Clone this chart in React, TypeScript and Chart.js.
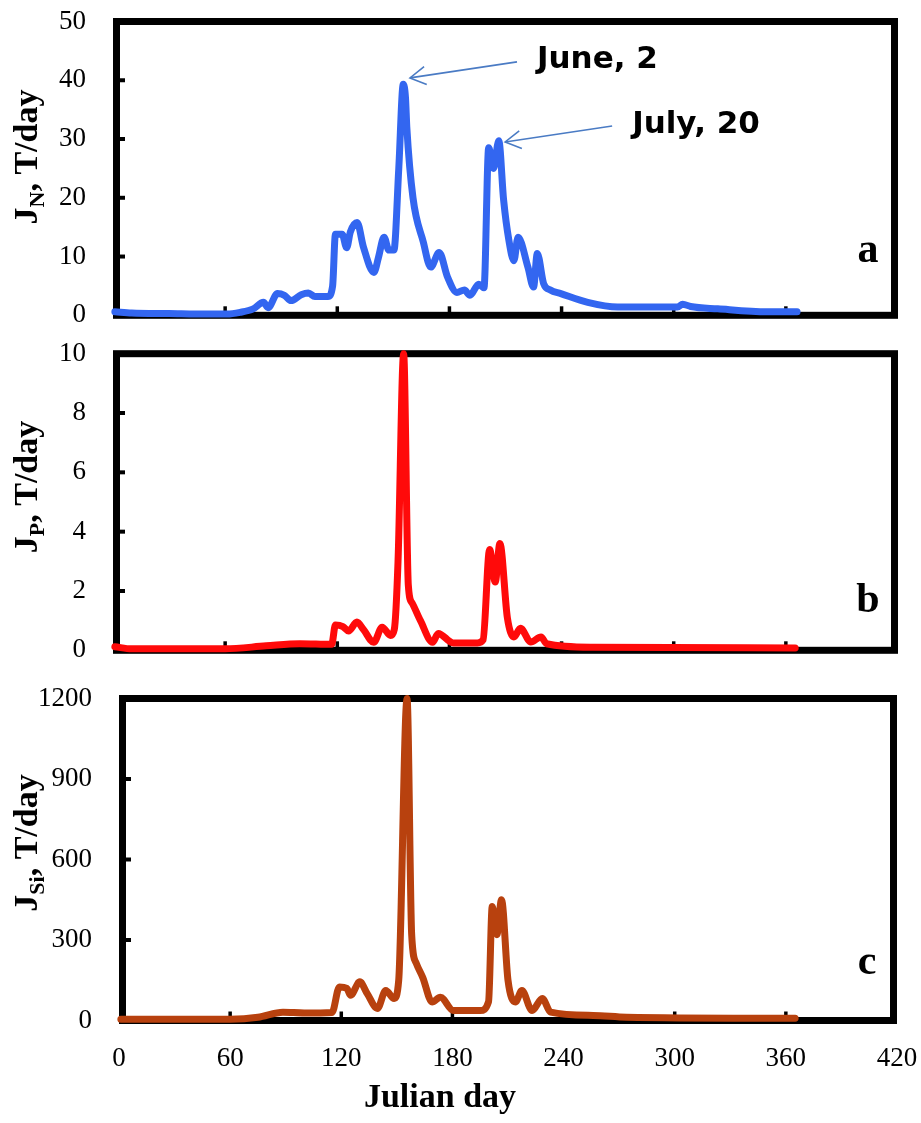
import React, { useEffect, useRef } from "react";
import { Chart, registerables } from "chart.js";
Chart.register(...registerables);

// ---- data (Julian day, flux) ----
const xTickValues = [0, 60, 120, 180, 240, 300, 360, 420];

const daysN = [1, 10, 30, 50, 61, 68, 75, 80.5, 83, 88, 91.7, 95.3, 100.7, 104.5, 108, 115, 117.5, 119, 122.6, 125, 127, 130.6, 134, 139.6, 142, 145, 147.6, 150.3, 152.9, 155.3, 156.5, 157.2, 160.5, 166, 170, 174.5, 179, 184, 188, 191, 195.7, 198.5, 201, 203.6, 206.4, 209, 211.8, 214.5, 216.7, 222, 225, 227, 230.4, 234, 239.6, 254, 270, 302, 304.8, 309, 323.6, 350, 366];
const valuesN = [0.6, 0.4, 0.3, 0.2, 0.2, 0.5, 1.1, 2.2, 1.3, 3.7, 3.4, 2.5, 3.5, 3.8, 3.2, 3.2, 5, 13.8, 13.8, 11.5, 14.2, 15.8, 11.6, 7.3, 9.8, 13.3, 11.1, 11.1, 25, 39.3, 37, 32, 20, 12.5, 8.2, 10.7, 6.5, 3.9, 4.3, 3.4, 5.3, 4.7, 28.5, 25, 29.7, 19.6, 12.8, 9.3, 13.3, 8.2, 4.8, 10.5, 5.4, 4.3, 3.7, 2.2, 1.4, 1.4, 1.9, 1.5, 1.1, 0.6, 0.6];

const daysP = [1, 10, 60, 82, 100, 117, 119, 123, 126, 130.5, 134, 139.5, 144, 148.5, 150.5, 152.5, 155.5, 158, 160, 164.5, 171, 174, 182, 195, 198, 201.5, 204.5, 207, 211, 214.5, 218, 223.5, 229, 232, 257, 365];
const valuesP = [0.12, 0.05, 0.05, 0.15, 0.22, 0.2, 0.85, 0.8, 0.65, 0.95, 0.7, 0.27, 0.78, 0.5, 0.7, 3, 10, 2.2, 1.6, 1.0, 0.27, 0.57, 0.25, 0.25, 0.35, 3.4, 2.3, 3.6, 1.1, 0.45, 0.74, 0.28, 0.45, 0.22, 0.1, 0.08];

const daysSi = [1, 60, 75, 88.5, 100, 115, 119, 123, 125, 130, 134, 139.5, 144, 148.5, 151, 155.5, 158, 160.5, 164, 169, 173.5, 180.5, 195, 199.5, 201.5, 204, 206.5, 210, 214, 217.5, 223, 228.5, 233, 256, 274, 365];
const valuesSi = [5, 5, 12, 31, 28, 30, 125, 120, 94, 144, 100, 45, 112, 82, 150, 1200, 320, 213, 160, 69, 87, 37, 37, 70, 425, 320, 450, 150, 69, 112, 37, 82, 31, 19, 12, 8];

const annotationLabels = ["June, 2", "July, 20"];
const annotationDays = [158.9, 209.8];
const annotationValues = [40.4, 29.5];

const xTitle = "Julian day";

type Panel = {
  days: number[];
  values: number[];
  color: string;
  yMax: number;
  yStep: number;
  canvasTop: number;
  canvasHeight: number;
  top: number;
  bottom: number;
  left: number;
  right: number;
  titleMain: string;
  titleSub: string;
  titleRest: string;
  titleCenterY: number;
  letter: string;
  letterY: number;
  showX: boolean;
  annotate: boolean;
};

const panels: Panel[] = [
  {
    days: daysN, values: valuesN, color: "#3366f0", yMax: 50, yStep: 10,
    canvasTop: 0, canvasHeight: 322, top: 21.5, bottom: 315.3, left: 113, right: 898,
    titleMain: "J", titleSub: "N", titleRest: ", T/day", titleCenterY: 157,
    letter: "a", letterY: 262, showX: false, annotate: true,
  },
  {
    days: daysP, values: valuesP, color: "#ff0a0a", yMax: 10, yStep: 2,
    canvasTop: 322, canvasHeight: 346, top: 353.7, bottom: 650.3, left: 113, right: 898,
    titleMain: "J", titleSub: "P", titleRest: ", T/day", titleCenterY: 487,
    letter: "b", letterY: 612, showX: false, annotate: false,
  },
  {
    days: daysSi, values: valuesSi, color: "#b8410e", yMax: 1200, yStep: 300,
    canvasTop: 668, canvasHeight: 455, top: 698.5, bottom: 1020.5, left: 119, right: 897,
    titleMain: "J", titleSub: "Si", titleRest: ", T/day", titleCenterY: 843,
    letter: "c", letterY: 974, showX: true, annotate: false,
  },
];

const SERIF = "'Liberation Serif', 'Times New Roman', serif";

function makeChart(canvas: HTMLCanvasElement, p: Panel) {
  const framePlugin = {
    id: "frame" + p.letter,
    beforeDatasetsDraw(chart: any) {
      const { ctx, chartArea } = chart;
      const { left: L, right: R, top: T, bottom: B } = chartArea;
      const xs = chart.scales.x;
      const ys = chart.scales.y;
      ctx.save();
      ctx.strokeStyle = "#000";
      ctx.lineWidth = 7;
      ctx.strokeRect(L + 3.5, T, R - L - 7, B - T);
      // y ticks (inward)
      ctx.lineWidth = 4;
      for (let v = p.yStep; v < p.yMax; v += p.yStep) {
        const y = ys.getPixelForValue(v);
        ctx.beginPath();
        ctx.moveTo(L + 3, y);
        ctx.lineTo(L + 12, y);
        ctx.stroke();
      }
      // x ticks (inward)
      ctx.lineWidth = 3.5;
      xTickValues.forEach((v) => {
        if (v === 0 || v === 420) return;
        const x = xs.getPixelForValue(v);
        ctx.beginPath();
        ctx.moveTo(x, B);
        ctx.lineTo(x, B - 9);
        ctx.stroke();
      });
      ctx.restore();
    },
    afterDraw(chart: any) {
      const { ctx, chartArea } = chart;
      const xs = chart.scales.x;
      const ys = chart.scales.y;
      const off = p.canvasTop;
      ctx.save();
      ctx.fillStyle = "#000";
      // y title with subscript
      ctx.translate(37, p.titleCenterY - off);
      ctx.rotate(-Math.PI / 2);
      const mainFont = `bold 34px ${SERIF}`;
      const subFont = `bold 22px ${SERIF}`;
      ctx.font = mainFont;
      const w1 = ctx.measureText(p.titleMain).width;
      const w3 = ctx.measureText(p.titleRest).width;
      ctx.font = subFont;
      const w2 = ctx.measureText(p.titleSub).width;
      let x = -(w1 + w2 + w3) / 2;
      ctx.textBaseline = "alphabetic";
      ctx.textAlign = "left";
      ctx.font = mainFont;
      ctx.fillText(p.titleMain, x, 0);
      x += w1;
      ctx.font = subFont;
      ctx.fillText(p.titleSub, x, 7);
      x += w2;
      ctx.font = mainFont;
      ctx.fillText(p.titleRest, x, 0);
      ctx.restore();

      // panel letter
      ctx.save();
      ctx.fillStyle = "#000";
      ctx.font = `bold 42px ${SERIF}`;
      ctx.textAlign = "center";
      ctx.textBaseline = "alphabetic";
      ctx.fillText(p.letter, chartArea.right - 30, p.letterY - off);
      ctx.restore();

      if (p.showX) {
        ctx.save();
        ctx.fillStyle = "#000";
        ctx.font = `bold 34px ${SERIF}`;
        ctx.textAlign = "center";
        ctx.textBaseline = "middle";
        ctx.fillText(xTitle, 440, 1098 - off);
        ctx.restore();
      }

      if (p.annotate) {
        ctx.save();
        annotationLabels.forEach((label, i) => {
          const tx = xs.getPixelForValue(annotationDays[i]);
          const ty = ys.getPixelForValue(annotationValues[i]);
          const sx = tx + 107;
          const sy = ty - 16;
          ctx.strokeStyle = "#4a7bc4";
          ctx.lineWidth = 1.6;
          ctx.beginPath();
          ctx.moveTo(sx, sy);
          ctx.lineTo(tx, ty);
          ctx.stroke();
          const dx = sx - tx;
          const dy = sy - ty;
          const len = Math.hypot(dx, dy);
          const ux = dx / len;
          const uy = dy / len;
          const a = (30 * Math.PI) / 180;
          const hl = 18;
          ctx.beginPath();
          ctx.moveTo(tx + hl * (ux * Math.cos(a) - uy * Math.sin(a)), ty + hl * (ux * Math.sin(a) + uy * Math.cos(a)));
          ctx.lineTo(tx, ty);
          ctx.lineTo(tx + hl * (ux * Math.cos(-a) - uy * Math.sin(-a)), ty + hl * (ux * Math.sin(-a) + uy * Math.cos(-a)));
          ctx.stroke();
          ctx.fillStyle = "#000";
          ctx.font = "bold 31px 'DejaVu Sans', Verdana, sans-serif";
          ctx.textAlign = "left";
          ctx.textBaseline = "middle";
          ctx.fillText(label, sx + 20, sy - 1.5);
        });
        ctx.restore();
      }
    },
  };

  const tickFont = { family: SERIF, size: 27 };
  const bottomSpace = p.canvasTop + p.canvasHeight - p.bottom;

  return new Chart(canvas, {
    type: "line",
    data: {
      datasets: [
        {
          data: p.days.map((d, i) => ({ x: d, y: p.values[i] })),
          borderColor: p.color,
          backgroundColor: p.color,
          borderWidth: 7,
          pointRadius: 0,
          cubicInterpolationMode: "monotone",
          borderJoinStyle: "round",
          borderCapStyle: "round",
          fill: false,
          clip: false,
        } as any,
      ],
    },
    options: {
      animation: false,
      responsive: false,
      maintainAspectRatio: false,
      devicePixelRatio: 1,
      events: [],
      layout: {
        padding: {
          left: 0,
          right: 921 - p.right,
          top: p.top - p.canvasTop,
          bottom: p.showX ? 0 : bottomSpace,
        },
      },
      plugins: {
        legend: { display: false },
        tooltip: { enabled: false },
        title: { display: false },
      },
      scales: {
        x: {
          type: "linear",
          min: 0,
          max: 420,
          display: p.showX,
          grid: { display: false, drawTicks: false },
          border: { display: false },
          ticks: {
            stepSize: 60,
            font: tickFont,
            color: "#000",
            padding: 22,
            maxRotation: 0,
            autoSkip: false,
            callback: (v: any) => String(v),
          },
          afterFit: (s: any) => {
            if (p.showX) s.height = bottomSpace;
            s.paddingLeft = 0;
            s.paddingRight = 0;
          },
        },
        y: {
          type: "linear",
          min: 0,
          max: p.yMax,
          grid: { display: false, drawTicks: false },
          border: { display: false },
          ticks: {
            stepSize: p.yStep,
            font: tickFont,
            color: "#000",
            padding: 27,
            callback: (v: any) => String(v),
          },
          afterFit: (s: any) => {
            s.width = p.left;
            s.paddingTop = 0;
            s.paddingBottom = 0;
          },
        },
      },
    } as any,
    plugins: [framePlugin],
  });
}

export default function App() {
  const refs = [
    useRef<HTMLCanvasElement>(null),
    useRef<HTMLCanvasElement>(null),
    useRef<HTMLCanvasElement>(null),
  ];
  useEffect(() => {
    const charts = panels.map((p, i) => makeChart(refs[i].current as HTMLCanvasElement, p));
    return () => charts.forEach((c) => c.destroy());
  }, []);
  return (
    <div style={{ position: "absolute", left: 0, top: 0, width: 921, height: 1123, background: "#fff" }}>
      {panels.map((p, i) => (
        <canvas
          key={p.letter}
          ref={refs[i]}
          width={921}
          height={p.canvasHeight}
          style={{ position: "absolute", left: 0, top: p.canvasTop, width: 921, height: p.canvasHeight, display: "block" }}
        />
      ))}
    </div>
  );
}
